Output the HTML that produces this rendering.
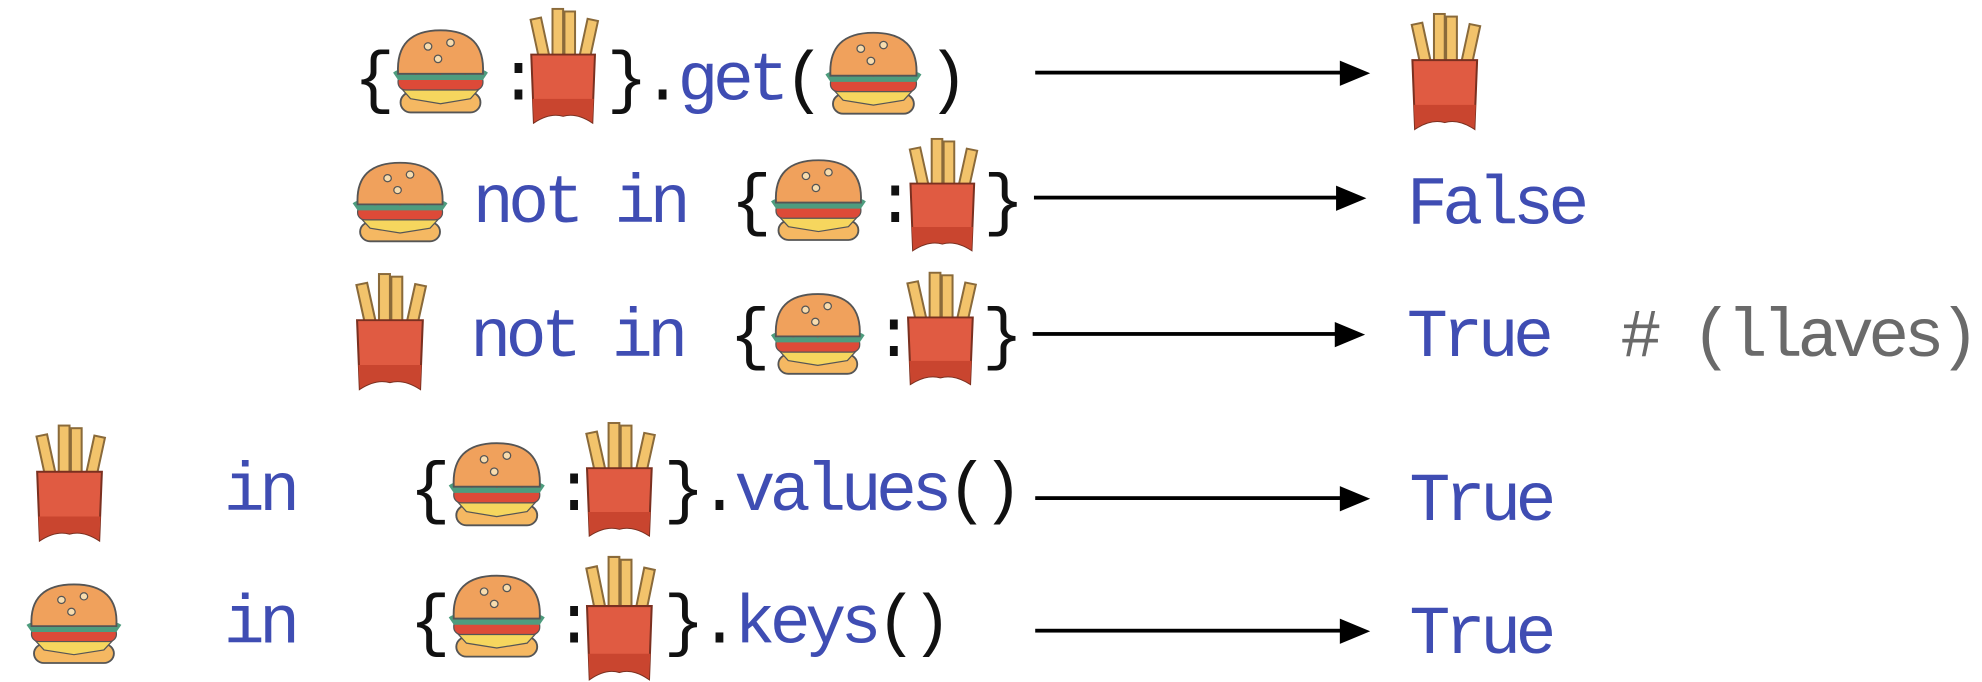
<!DOCTYPE html>
<html><head><meta charset="utf-8"><style>
html,body{margin:0;padding:0;background:#fff;width:1982px;height:678px;overflow:hidden}
#w{position:absolute;left:0;top:0;width:1568px;height:537px;transform:scale(1.2640,1.2626);transform-origin:0 0}
.t{position:absolute;font-family:"Liberation Mono",monospace;font-size:54px;letter-spacing:-4.4px;line-height:1;white-space:pre;color:#111;margin-top:-3px}
.b{color:#3f4db3}
.g{color:#6a6a6a}
svg.i{position:absolute}
.ar{position:absolute;height:3px;background:#000}
.ah{position:absolute;width:0;height:0;border-top:10px solid transparent;border-bottom:10px solid transparent;border-left:24px solid #000}
</style></head><body>
<svg width="0" height="0" style="position:absolute">
<defs>
<symbol id="bg" viewBox="0 0 80 70" preserveAspectRatio="none">
<rect x="8" y="52" width="64" height="16" rx="8" fill="#f5b862" stroke="#555" stroke-width="1.5"/>
<polygon points="8,48 72,48 64,57 40,61 16,57" fill="#f6d65e" stroke="#555" stroke-width="1"/>
<rect x="6" y="37" width="68" height="13" rx="6" fill="#dd4a38" stroke="#555" stroke-width="1"/>
<path d="M2 36 Q10 30 20 38 Q30 32 40 38 Q50 32 60 38 Q70 30 78 36 L74 42 L6 42Z" fill="#4e9c7e"/>
<path d="M6 37 Q4 2 40 2 Q76 2 74 37 Z" fill="#f0a15c" stroke="#555" stroke-width="1.5"/>
<circle cx="30" cy="15" r="3" fill="#f7dcae" stroke="#555" stroke-width="1"/>
<circle cx="48" cy="12" r="3" fill="#f7dcae" stroke="#555" stroke-width="1"/>
<circle cx="38" cy="25" r="3" fill="#f7dcae" stroke="#555" stroke-width="1"/>
</symbol>
<symbol id="fr" viewBox="0 0 60 90" preserveAspectRatio="none">
<g fill="#f2c36b" stroke="#8a6a3a" stroke-width="1.5">
<rect x="10" y="8" width="8" height="48" transform="rotate(-12 14 30)"/>
<rect x="22" y="1" width="8" height="54"/>
<rect x="31" y="3" width="8" height="52"/>
<rect x="44" y="9" width="8" height="46" transform="rotate(12 48 30)"/>
</g>
<path d="M6 36 L54 36 L52 88 Q40 80 30 83 Q20 80 8 88 Z" fill="#e05b42" stroke="#7a3020" stroke-width="1.5"/>
<path d="M7 70 L53 70 L52 88 Q40 80 30 83 Q20 80 8 88 Z" fill="#c9452f"/>
</symbol>
</defs></svg>
<div id="w">
<!-- Row 1 -->
<div class="t" style="left:280px;top:42px">{</div>
<svg class="i" style="left:309px;top:22px" width="79" height="69"><use href="#bg"/></svg>
<div class="t" style="left:394px;top:42px">:</div>
<svg class="i" style="left:414px;top:6px" width="63" height="93"><use href="#fr"/></svg>
<div class="t" style="left:480px;top:42px">}.<span class="b">get</span>(</div>
<svg class="i" style="left:651px;top:24px" width="80" height="68"><use href="#bg"/></svg>
<div class="t" style="left:734px;top:42px">)</div>
<div class="ar" style="left:819px;top:56px;width:242px"></div><div class="ah" style="left:1060px;top:48px"></div>
<svg class="i" style="left:1111px;top:10px" width="64" height="94"><use href="#fr"/></svg>
<!-- Row 2 -->
<svg class="i" style="left:277px;top:127px" width="79" height="66"><use href="#bg"/></svg>
<div class="t b" style="left:374px;top:139px">not in</div>
<div class="t" style="left:578px;top:139px">{</div>
<svg class="i" style="left:608px;top:125px" width="79" height="67"><use href="#bg"/></svg>
<div class="t" style="left:692px;top:139px">:</div>
<svg class="i" style="left:714px;top:109px" width="63" height="91"><use href="#fr"/></svg>
<div class="t" style="left:778px;top:139px">}</div>
<div class="ar" style="left:818px;top:155px;width:240px"></div><div class="ah" style="left:1057px;top:147px"></div>
<div class="t b" style="left:1113px;top:140px">False</div>
<!-- Row 3 -->
<svg class="i" style="left:276px;top:216px" width="65" height="94"><use href="#fr"/></svg>
<div class="t b" style="left:372px;top:245px">not in</div>
<div class="t" style="left:577px;top:245px">{</div>
<svg class="i" style="left:608px;top:231px" width="78" height="67"><use href="#bg"/></svg>
<div class="t" style="left:691px;top:245px">:</div>
<svg class="i" style="left:712px;top:215px" width="64" height="91"><use href="#fr"/></svg>
<div class="t" style="left:777px;top:245px">}</div>
<div class="ar" style="left:817px;top:263px;width:240px"></div><div class="ah" style="left:1056px;top:255px"></div>
<div class="t b" style="left:1113px;top:245px">True</div>
<div class="t g" style="left:1282px;top:245px"># (llaves)</div>
<!-- Row 4 -->
<svg class="i" style="left:23px;top:336px" width="64" height="94"><use href="#fr"/></svg>
<div class="t b" style="left:177px;top:367px">in</div>
<div class="t" style="left:324px;top:367px">{</div>
<svg class="i" style="left:353px;top:349px" width="80" height="69"><use href="#bg"/></svg>
<div class="t" style="left:438px;top:367px">:</div>
<svg class="i" style="left:458px;top:334px" width="64" height="92"><use href="#fr"/></svg>
<div class="t" style="left:525px;top:367px">}.<span class="b">values</span>()</div>
<div class="ar" style="left:819px;top:393px;width:242px"></div><div class="ah" style="left:1060px;top:385px"></div>
<div class="t b" style="left:1115px;top:375px">True</div>
<!-- Row 5 -->
<svg class="i" style="left:19px;top:461px" width="79" height="66"><use href="#bg"/></svg>
<div class="t b" style="left:177px;top:472px">in</div>
<div class="t" style="left:324px;top:472px">{</div>
<svg class="i" style="left:353px;top:454px" width="80" height="68"><use href="#bg"/></svg>
<div class="t" style="left:438px;top:472px">:</div>
<svg class="i" style="left:458px;top:440px" width="64" height="100"><use href="#fr"/></svg>
<div class="t" style="left:525px;top:472px">}.<span class="b">keys</span>()</div>
<div class="ar" style="left:819px;top:498px;width:242px"></div><div class="ah" style="left:1060px;top:490px"></div>
<div class="t b" style="left:1115px;top:480px">True</div>
</div>
</body></html>
